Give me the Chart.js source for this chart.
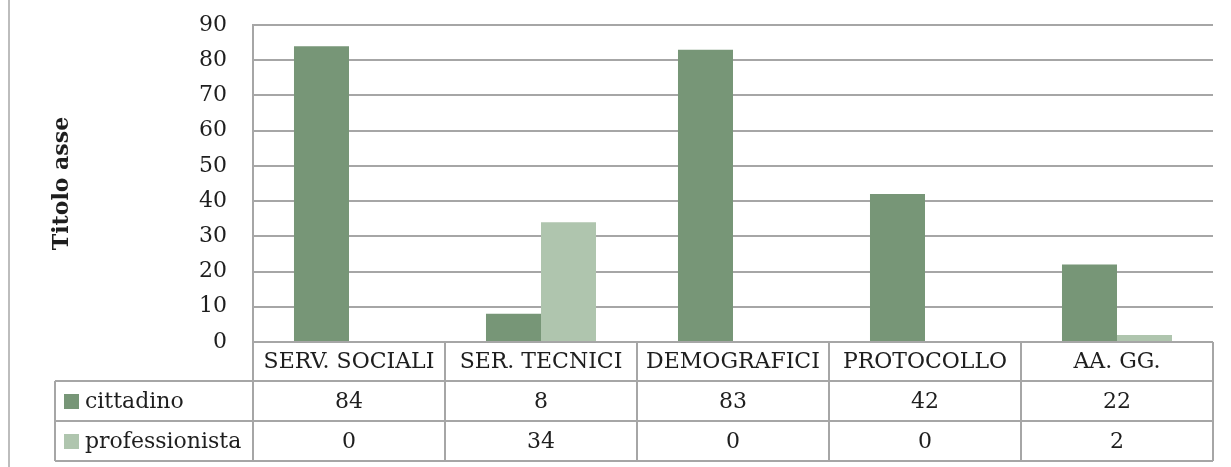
<!DOCTYPE html>
<html>
<head>
<meta charset="utf-8">
<script src="https://cdn.jsdelivr.net/npm/chart.js@4.4.0/dist/chart.umd.min.js"></script>
<style>
  html, body { margin: 0; padding: 0; background: #fff; }
  canvas { display: block; }
</style>
</head>
<body>
<canvas id="barChart" width="1231" height="467"></canvas>
<script>
const categories = ['SERV. SOCIALI', 'SER. TECNICI', 'DEMOGRAFICI', 'PROTOCOLLO', 'AA. GG.'];
const seriesNames = ['cittadino', 'professionista'];
const cittadino = [84, 8, 83, 42, 22];
const professionista = [0, 34, 0, 0, 2];
const yMin = 0;
const yMax = 90;
const yStep = 10;
const yTitle = 'Titolo asse';

const colors = ['#779677', '#afc5ae'];
const lineColor = '#a6a6a6';
const textColor = '#1e1e1e';
const fontFamily = '"DejaVu Serif", serif';

document.addEventListener('DOMContentLoaded', () => {
  const seriesValues = [cittadino, professionista];

  // data table under the plot, columns follow the x scale
  const tablePlugin = {
    id: 'dataTable',
    afterDraw(chart) {
      const c = chart.ctx;
      const x = chart.scales.x;
      const area = chart.chartArea;
      const half = (x.right - x.left) / categories.length / 2;
      const headTop = area.bottom;
      const labelLeft = 55;
      const rows = [headTop, headTop + 39, headTop + 79, headTop + 119];

      c.save();
      c.strokeStyle = lineColor;
      c.lineWidth = 2;

      // horizontal lines
      c.beginPath();
      c.moveTo(area.left, rows[0]);
      c.lineTo(x.right, rows[0]);
      for (let i = 1; i < rows.length; i++) {
        c.moveTo(labelLeft, rows[i]);
        c.lineTo(x.right, rows[i]);
      }
      // vertical lines
      c.moveTo(labelLeft, rows[1]);
      c.lineTo(labelLeft, rows[3]);
      categories.forEach((cat, i) => {
        const px = x.getPixelForValue(i);
        c.moveTo(px - half, rows[0]);
        c.lineTo(px - half, rows[3]);
      });
      c.moveTo(x.right, rows[0]);
      c.lineTo(x.right, rows[3]);
      c.stroke();

      c.fillStyle = textColor;
      c.font = '22px ' + fontFamily;
      c.textAlign = 'center';
      c.textBaseline = 'middle';
      categories.forEach((cat, i) => {
        const px = x.getPixelForValue(i);
        c.fillText(cat, px, (rows[0] + rows[1]) / 2 + 1);
        seriesValues.forEach((vals, s) => {
          c.fillText(String(vals[i]), px, (rows[s + 1] + rows[s + 2]) / 2 + 1);
        });
      });

      // series names with swatches
      c.textAlign = 'left';
      seriesNames.forEach((name, s) => {
        const cy = (rows[s + 1] + rows[s + 2]) / 2;
        c.fillStyle = colors[s];
        c.fillRect(64, cy - 7, 15, 15);
        c.fillStyle = textColor;
        c.fillText(name, 85, cy + 1);
      });

      // axis title
      c.font = 'bold 22px ' + fontFamily;
      c.textAlign = 'center';
      c.translate(62, (area.top + area.bottom) / 2);
      c.rotate(-Math.PI / 2);
      c.fillText(yTitle, 0, 0);
      c.restore();
    },
    beforeDraw(chart) {
      const c = chart.ctx;
      c.save();
      c.strokeStyle = '#bdbdbd';
      c.lineWidth = 2;
      c.beginPath();
      c.moveTo(9, 0);
      c.lineTo(9, chart.height);
      c.stroke();
      c.restore();
    }
  };

  const ctx = document.getElementById('barChart').getContext('2d');
  const chart = new Chart(ctx, {
    type: 'bar',
    data: {
      labels: categories,
      datasets: seriesNames.map((name, s) => ({
        label: name,
        data: seriesValues[s],
        backgroundColor: colors[s],
        borderWidth: 0,
        categoryPercentage: 0.573,
        barPercentage: 1.0
      }))
    },
    options: {
      responsive: false,
      animation: false,
      devicePixelRatio: 1,
      layout: {
        padding: { left: 0, right: 18, top: 25, bottom: 125 }
      },
      scales: {
        x: {
          display: false
        },
        y: {
          min: yMin,
          max: yMax,
          afterFit(scale) {
            scale.width = 253;
            // tick padding would otherwise push the plot down
            scale.paddingTop = 0;
            scale.paddingBottom = 0;
          },
          ticks: {
            stepSize: yStep,
            padding: 26,
            color: textColor,
            font: { family: fontFamily, size: 22 }
          },
          grid: {
            color: lineColor,
            lineWidth: 2,
            drawTicks: false
          },
          border: {
            display: true,
            color: lineColor,
            width: 2
          }
        }
      },
      plugins: {
        legend: { display: false },
        tooltip: { enabled: false }
      }
    },
    plugins: [tablePlugin]
  });
});
</script>
</body>
</html>
